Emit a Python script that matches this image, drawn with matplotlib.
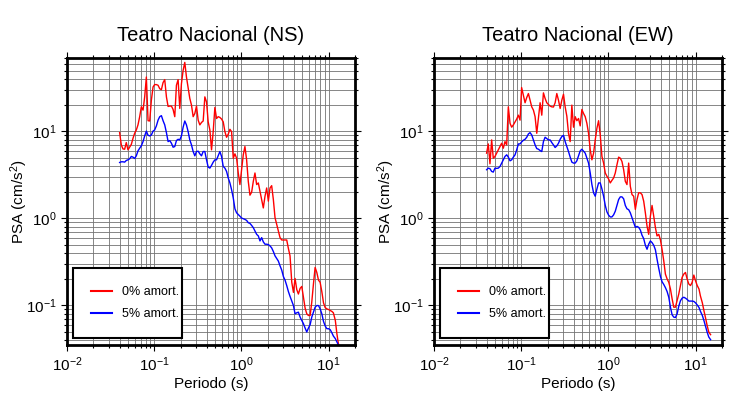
import numpy as np
import matplotlib
matplotlib.use("Agg")
import matplotlib.pyplot as plt

plt.rcParams['font.family'] = ['Liberation Sans', 'DejaVu Sans']
plt.rcParams['mathtext.default'] = 'regular'

# periods (s), shared by all four spectra
periods = [0.0401, 0.0419, 0.0438, 0.0458, 0.0478, 0.0500, 0.0522, 0.0546, 0.0571, 0.0596,
           0.0623, 0.0651, 0.0681, 0.0711, 0.0744, 0.0777, 0.0812, 0.0849, 0.0887, 0.0927,
           0.0969, 0.101, 0.1058, 0.1106, 0.1156, 0.1208, 0.1262, 0.1319, 0.1379, 0.1441,
           0.1506, 0.1574, 0.1645, 0.1719, 0.1796, 0.1877, 0.1962, 0.2050, 0.2143, 0.2239,
           0.2340, 0.2446, 0.2556, 0.2672, 0.2792, 0.2918, 0.3050, 0.3187, 0.3331, 0.3481,
           0.3638, 0.3802, 0.3973, 0.4152, 0.4340, 0.4535, 0.4740, 0.4953, 0.5177, 0.5410,
           0.5654, 0.5909, 0.6175, 0.6454, 0.6745, 0.7049, 0.7367, 0.7699, 0.8046, 0.8409,
           0.8788, 0.9184, 0.9598, 1.003, 1.048, 1.095, 1.145, 1.196, 1.250, 1.307,
           1.366, 1.427, 1.492, 1.559, 1.629, 1.703, 1.779, 1.860, 1.944, 2.031,
           2.123, 2.218, 2.318, 2.423, 2.532, 2.646, 2.765, 2.890, 3.020, 3.156,
           3.30, 3.45, 3.60, 3.77, 3.94, 4.11, 4.30, 4.49, 4.70, 4.91,
           5.13, 5.36, 5.60, 5.85, 6.12, 6.39, 6.68, 6.98, 7.30, 7.63,
           7.97, 8.33, 8.71, 9.10, 9.51, 9.94, 10.4, 10.9, 11.3, 11.9,
           12.4, 12.9, 13.5, 14.1, 14.8]

# Teatro Nacional NS
ns_0 = [9.70, 7.01, 6.3, 6.25, 7.45, 6.15, 6.59, 7.1, 8.36, 9.53,
        10.4, 11.9, 14.8, 19.2, 17.6, 25.0, 42.3, 13.3, 13.2, 22.9,
        32.5, 34.6, 34.6, 34.0, 31.0, 30.3, 36.5, 39.5, 25.0, 19.4,
        19.6, 19.6, 17.9, 14.8, 34.0, 39.5, 18.4, 35.5, 50.5, 62.3,
        42.3, 32.0, 24.0, 20.1, 14.8, 16.1, 19.6, 13.5, 11.9, 12.7,
        13.2, 25.0, 21.9, 12.9, 10.4, 6.15, 9.96, 18.9, 14.1, 14.8,
        14.5, 13.9, 12.9, 9.96, 8.58, 9.3, 10.6, 9.96, 4.93, 5.53,
        4.93, 3.33, 2.45, 3.63, 5.39, 6.71, 4.72, 2.67, 1.85, 2.0,
        2.67, 3.33, 2.45, 2.56, 2.05, 1.65, 1.32, 1.80, 2.24, 1.58,
        2.24, 2.38, 1.65, 1.02, 0.854, 0.716, 0.601, 0.565, 0.565, 0.565,
        0.565, 0.45, 0.371, 0.184, 0.141, 0.204, 0.152, 0.135, 0.157, 0.165,
        0.124, 0.093, 0.080, 0.0765, 0.0765, 0.109, 0.176, 0.273, 0.239, 0.195,
        0.184, 0.144, 0.107, 0.0943, 0.0912, 0.0896, 0.0873, 0.085, 0.0821, 0.0671,
        0.0472, 0.0363, 0.030]
ns_5 = [4.40, 4.48, 4.48, 4.44, 4.64, 4.72, 4.85, 5.16, 5.07, 4.89,
        5.25, 5.98, 6.42, 6.83, 7.65, 8.89, 10.1, 9.04, 8.89, 9.12,
        10.1, 10.4, 11.6, 13.5, 14.8, 15.2, 13.3, 11.9, 9.70, 7.65,
        7.86, 7.32, 6.59, 6.71, 7.86, 8.13, 8.00, 8.89, 11.2, 13.2,
        11.9, 9.96, 8.00, 7.01, 5.88, 5.25, 5.88, 5.93, 5.53, 5.25,
        5.88, 5.88, 4.72, 3.89, 3.79, 4.07, 4.44, 4.72, 4.72, 5.25,
        5.88, 5.16, 3.96, 3.79, 3.47, 2.92, 2.56, 2.14, 1.72, 1.29,
        1.16, 1.11, 1.06, 1.01, 0.991, 0.974, 0.949, 0.892, 0.877, 0.831,
        0.782, 0.716, 0.656, 0.629, 0.551, 0.601, 0.537, 0.505, 0.505, 0.50,
        0.483, 0.458, 0.416, 0.371, 0.346, 0.323, 0.285, 0.255, 0.215, 0.195,
        0.169, 0.144, 0.127, 0.112, 0.0995, 0.080, 0.0821, 0.0835, 0.0732, 0.0671,
        0.0615, 0.0548, 0.0494, 0.0548, 0.060, 0.0732, 0.0835, 0.0953, 0.0995, 0.0995,
        0.0912, 0.080, 0.0654, 0.058, 0.0539, 0.0539, 0.0525, 0.048, 0.0444, 0.0414,
        0.038, 0.035, 0.030]

# Teatro Nacional EW
ew_0 = [5.63, 7.19, 4.25, 8.00, 4.93, 5.16, 5.63, 6.15, 6.71, 7.32,
        6.42, 7.65, 7.01, 19.2, 12.4, 11.2, 11.9, 12.9, 13.9, 15.4,
        13.5, 32.0, 26.1, 21.4, 24.6, 27.3, 22.9, 19.2, 17.6, 14.8,
        9.53, 14.1, 21.4, 15.4, 27.8, 24.0, 21.4, 20.4, 19.6, 19.2,
        19.1, 21.4, 27.3, 22.9, 18.4, 22.9, 26.8, 19.2, 15.0, 9.53,
        7.65, 20.1, 11.2, 14.8, 13.3, 14.1, 11.6, 17.9, 16.1, 14.8,
        12.4, 9.53, 6.15, 4.72, 5.63, 8.00, 10.9, 13.3, 9.12, 5.16,
        4.33, 3.33, 3.05, 2.84, 2.56, 2.74, 2.92, 3.33, 4.14, 5.07,
        4.93, 4.52, 3.63, 2.67, 2.45, 4.33, 2.34, 1.88, 1.80, 1.27,
        1.65, 1.97, 1.97, 1.88, 1.58, 1.16, 0.817, 0.656, 1.06, 1.41,
        1.06, 0.782, 0.629, 0.656, 0.565, 0.442, 0.325, 0.229, 0.201, 0.184,
        0.154, 0.119, 0.0953, 0.0953, 0.114, 0.135, 0.169, 0.210, 0.229, 0.239,
        0.201, 0.176, 0.169, 0.184, 0.223, 0.192, 0.169, 0.154, 0.129, 0.107,
        0.0873, 0.0732, 0.0589, 0.0494, 0.0460]
ew_5 = [3.63, 3.79, 3.73, 3.47, 3.41, 3.79, 3.76, 3.79, 3.96, 4.33,
        4.72, 5.16, 5.39, 5.07, 4.60, 4.72, 5.07, 5.39, 6.15, 7.19,
        7.19, 7.58, 7.93, 8.13, 8.58, 9.37, 9.70, 9.12, 8.00, 7.01,
        6.36, 6.25, 6.03, 5.88, 7.65, 8.58, 8.29, 8.00, 8.00, 7.45,
        7.01, 6.54, 6.83, 7.32, 8.13, 8.73, 9.04, 7.65, 6.71, 5.88,
        5.07, 4.44, 4.33, 4.33, 4.60, 5.25, 5.98, 6.25, 5.93, 5.63,
        4.93, 4.33, 3.33, 2.45, 1.97, 1.80, 2.18, 2.56, 2.56, 2.18,
        1.80, 1.41, 1.19, 1.09, 1.04, 1.04, 1.10, 1.21, 1.41, 1.65,
        1.77, 1.77, 1.68, 1.41, 1.29, 1.26, 1.16, 1.02, 0.892, 0.789,
        0.81, 0.789, 0.736, 0.64, 0.586, 0.491, 0.442, 0.505, 0.551, 0.527,
        0.491, 0.435, 0.340, 0.266, 0.215, 0.187, 0.174, 0.16, 0.144, 0.124,
        0.0953, 0.0779, 0.0732, 0.0725, 0.080, 0.0977, 0.113, 0.121, 0.124, 0.121,
        0.117, 0.112, 0.112, 0.112, 0.111, 0.107, 0.101, 0.0945, 0.0858, 0.0765,
        0.0671, 0.058, 0.0494, 0.0433, 0.0403]

panels = [("Teatro Nacional (NS)", ns_0, ns_5),
          ("Teatro Nacional (EW)", ew_0, ew_5)]

fig = plt.figure(figsize=(7.3, 4.0), dpi=100)
lefts = [67 / 730, 434 / 730]

for (title, s0, s5), left in zip(panels, lefts):
    ax = fig.add_axes([left, 55 / 400, 288 / 730, 287 / 400])
    ax.plot(periods[:len(s0)], s0, color='red', lw=1.0, label='0% amort.')
    ax.plot(periods[:len(s5)], s5, color='blue', lw=1.0, label='5% amort.')
    ax.set_xscale('log')
    ax.set_yscale('log')
    ax.set_xlim(0.01, 20)
    ax.set_ylim(0.035, 70)
    ax.grid(True, which='both', color='0.45', lw=0.6)
    ax.set_axisbelow(True)
    for sp in ax.spines.values():
        sp.set_linewidth(2.0)
    ax.tick_params(which='both', direction='out', top=True, right=True,
                   labelsize=11, width=0.8)
    ax.tick_params(which='major', length=4)
    ax.tick_params(which='minor', length=2.5)
    ax.set_title(title, fontsize=14.5, pad=12)
    ax.set_xlabel("Periodo (s)", fontsize=11, labelpad=2)
    ax.set_ylabel("PSA (cm/s$^2$)", fontsize=11)
    ax.yaxis.set_label_coords(-0.128, 0.5)
    leg = ax.legend(loc='lower left', bbox_to_anchor=(0.021, 0.024, 0.378, 0.25),
                    mode='expand', borderaxespad=0, fontsize=9, handlelength=1.65,
                    handletextpad=0.8, labelspacing=0.8, borderpad=1.45,
                    fancybox=False, framealpha=1, edgecolor='black')
    leg.get_frame().set_linewidth(1.5)
    for line in leg.get_lines():
        line.set_linewidth(1.5)

fig.savefig("out.png", dpi=100)
